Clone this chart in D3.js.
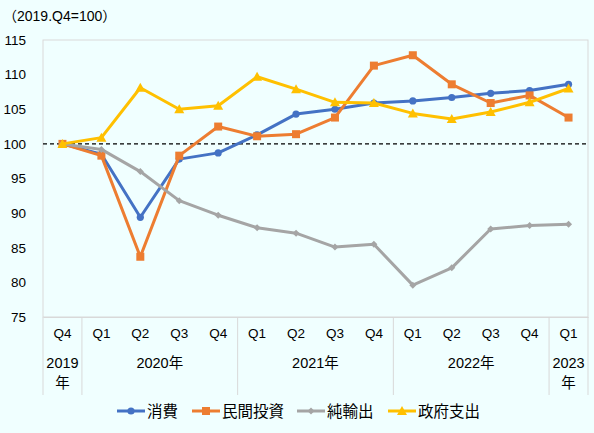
<!DOCTYPE html>
<html><head><meta charset="utf-8">
<script src="https://cdn.jsdelivr.net/npm/d3@7"></script>
<style>
html,body{margin:0;padding:0;background:#F0FFFF;}
svg{display:block;font-family:"Liberation Sans","Noto Sans CJK JP",sans-serif;}
</style></head><body>
<svg id="c" width="594" height="433"></svg>
<script>
const quarters = ["Q4","Q1","Q2","Q3","Q4","Q1","Q2","Q3","Q4","Q1","Q2","Q3","Q4","Q1"];
const yearGroups = [
  {label:["2019","年"], start:0, end:1},
  {label:["2020年"], start:1, end:5},
  {label:["2021年"], start:5, end:9},
  {label:["2022年"], start:9, end:13},
  {label:["2023","年"], start:13, end:14}
];
const yTicks = [75,80,85,90,95,100,105,110,115];
const consumption = [100,98.5,89.4,97.8,98.7,101.3,104.3,105.0,105.9,106.2,106.7,107.3,107.7,108.6];
const privateInv = [100,98.3,83.7,98.3,102.5,101.1,101.4,103.8,111.3,112.8,108.6,105.9,107.0,103.8];
const netExports = [100,99.2,96.0,91.8,89.7,87.9,87.1,85.1,85.5,79.6,82.1,87.7,88.2,88.4];
const govSpending = [100,100.9,108.1,105.0,105.5,109.7,107.9,106.0,105.9,104.4,103.6,104.6,106.0,108.0];

const series = [
  {name:"消費", values:consumption, color:"#4472C4", marker:"circle"},
  {name:"民間投資", values:privateInv, color:"#ED7D31", marker:"square"},
  {name:"純輸出", values:netExports, color:"#A5A5A5", marker:"diamond"},
  {name:"政府支出", values:govSpending, color:"#FFC000", marker:"triangle"}
];

const svg = d3.select("#c");
const L=43, R=588, T=40, B=317;
const x = d3.scaleBand().domain(d3.range(quarters.length)).range([L,R]);
const y = d3.scaleLinear().domain([75,115]).range([B,T]);
const gc = "#D9D9D9";

// plot border
svg.append("rect").attr("x",L).attr("y",T).attr("width",R-L).attr("height",B-T)
  .attr("fill","none").attr("stroke",gc).attr("stroke-width",1);

// y labels
const ya = svg.append("g").attr("transform",`translate(${L},0)`)
  .call(d3.axisLeft(y).tickValues(yTicks).tickSize(0).tickPadding(17));
ya.select(".domain").remove();
ya.selectAll("text").attr("font-size",13.5).attr("fill","#000");

// x axis quarter labels
const xa = svg.append("g").attr("transform",`translate(0,${B})`)
  .call(d3.axisBottom(x).tickFormat(i=>quarters[i]).tickSize(0).tickPadding(11));
xa.select(".domain").attr("stroke",gc);
xa.selectAll("text").attr("font-size",13.5).attr("fill","#000");

// group separators
const seps = [0,1,5,9,13,14];
svg.selectAll("line.sep").data(seps).enter().append("line")
  .attr("x1",d=>L+d*x.step()).attr("x2",d=>L+d*x.step())
  .attr("y1",B).attr("y2",395).attr("stroke",gc).attr("stroke-width",1);

// year labels
yearGroups.forEach(g=>{
  const cx = L + (g.start+g.end)/2*x.step();
  g.label.forEach((t,k)=>{
    svg.append("text").attr("x",cx).attr("y",368+k*20).attr("text-anchor","middle")
      .attr("font-size",14.5).attr("fill","#000").text(t);
  });
});

// title
svg.append("text").attr("x",3).attr("y",21).attr("font-size",14)
  .text("（2019.Q4=100）");

// dashed 100 line
svg.append("line").attr("x1",L).attr("x2",R).attr("y1",y(100)).attr("y2",y(100))
  .attr("stroke","#000").attr("stroke-width",1.2).attr("stroke-dasharray","4,3");

const cx = i => x(i)+x.bandwidth()/2;
const line = d3.line().x((d,i)=>cx(i)).y(d=>y(d));

function drawMarker(g, type, px, py, color){
  if(type==="circle") g.append("circle").attr("cx",px).attr("cy",py).attr("r",3.6).attr("fill",color);
  else if(type==="square") g.append("rect").attr("x",px-4).attr("y",py-4).attr("width",8).attr("height",8).attr("fill",color);
  else if(type==="diamond") g.append("path").attr("d",`M${px},${py-3.5}L${px+3.5},${py}L${px},${py+3.5}L${px-3.5},${py}Z`).attr("fill",color);
  else if(type==="triangle") g.append("path").attr("d",`M${px},${py-5}L${px+5},${py+4}L${px-5},${py+4}Z`).attr("fill",color);
}

series.forEach(s=>{
  const g = svg.append("g");
  g.append("path").datum(s.values).attr("d",line).attr("fill","none")
    .attr("stroke",s.color).attr("stroke-width",3).attr("stroke-linejoin","round");
  s.values.forEach((v,i)=>drawMarker(g,s.marker,cx(i),y(v),s.color));
});

// legend
const legendX = [117,192,297,388];
series.forEach((s,k)=>{
  const g = svg.append("g");
  const lx = legendX[k], ly = 411;
  g.append("line").attr("x1",lx).attr("x2",lx+28).attr("y1",ly).attr("y2",ly)
    .attr("stroke",s.color).attr("stroke-width",3);
  drawMarker(g,s.marker,lx+14,ly,s.color);
  g.append("text").attr("x",lx+30).attr("y",ly+5.5).attr("font-size",15.5)
    .attr("font-family","'Noto Sans CJK JP',sans-serif").text(s.name);
});
</script>
</body></html>
